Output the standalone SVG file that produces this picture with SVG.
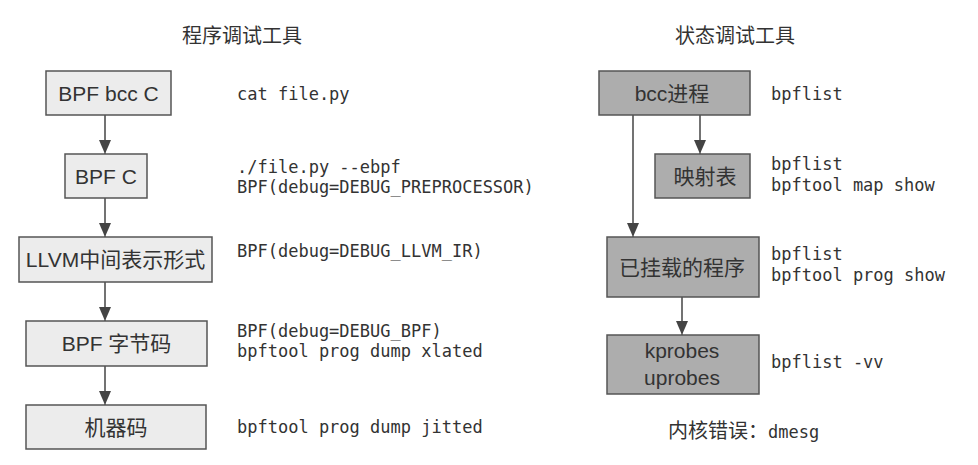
<svg xmlns="http://www.w3.org/2000/svg" width="978" height="465" viewBox="0 0 978 465">
<defs>
<marker id="ah" viewBox="0 0 12 14" refX="14" refY="6" markerWidth="12" markerHeight="14" markerUnits="userSpaceOnUse" orient="auto">
<path d="M0,0 L14,6 L0,12 Z" fill="#444"/>
</marker>
</defs>
<style>
.bl{fill:#ececec;stroke:#555;stroke-width:1.5}
.bd{fill:#adadad;stroke:#555;stroke-width:1.5}
.lbl{font-family:"Liberation Sans","Noto Sans CJK SC",sans-serif;font-size:21px;fill:#333;text-anchor:middle}
.mono{font-family:"DejaVu Sans Mono","Liberation Mono",monospace;font-size:17px;fill:#333}
.title{font-family:"Noto Sans CJK SC",sans-serif;font-size:20px;fill:#333;text-anchor:middle}
.cn{font-family:"Noto Sans CJK SC",sans-serif}
.con{stroke:#444;stroke-width:1.5;fill:none;marker-end:url(#ah)}
</style>
<rect width="978" height="465" fill="#ffffff"/>
<text class="title" x="242" y="43">程序调试工具</text>
<text class="title" x="735" y="43">状态调试工具</text>
<g id="connectors">
<line class="con" x1="105" y1="115" x2="105" y2="154"/>
<line class="con" x1="105" y1="198" x2="105" y2="237"/>
<line class="con" x1="105" y1="282" x2="105" y2="321"/>
<line class="con" x1="105" y1="366" x2="105" y2="405"/>
<line class="con" x1="633" y1="115" x2="633" y2="237"/>
<line class="con" x1="700" y1="115" x2="700" y2="154"/>
<line class="con" x1="682" y1="297" x2="682" y2="335"/>
</g>
<g id="n-bcc-c">
<rect class="bl" x="46" y="71" width="125" height="44"/>
<text class="lbl" x="108.5" y="101">BPF bcc C</text>
</g>
<g id="n-bpf-c">
<rect class="bl" x="65" y="154" width="82" height="44"/>
<text class="lbl" x="106" y="184">BPF C</text>
</g>
<g id="n-llvm">
<rect class="bl" x="19" y="237" width="193" height="45"/>
<text class="lbl" x="115.5" y="267">LLVM<tspan class="cn">中间表示形式</tspan></text>
</g>
<g id="n-bytecode">
<rect class="bl" x="26" y="321" width="181" height="45"/>
<text class="lbl" x="116.5" y="351">BPF <tspan class="cn">字节码</tspan></text>
</g>
<g id="n-machine">
<rect class="bl" x="26" y="405" width="180" height="44"/>
<text class="lbl cn" x="116" y="435">机器码</text>
</g>
<g id="left-cmds">
<text class="mono" x="237" y="100">cat file.py</text>
<text class="mono" x="237" y="173">./file.py --ebpf</text>
<text class="mono" x="237" y="193">BPF(debug=DEBUG_PREPROCESSOR)</text>
<text class="mono" x="237" y="257">BPF(debug=DEBUG_LLVM_IR)</text>
<text class="mono" x="237" y="337">BPF(debug=DEBUG_BPF)</text>
<text class="mono" x="237" y="357">bpftool prog dump xlated</text>
<text class="mono" x="237" y="433">bpftool prog dump jitted</text>
</g>
<g id="n-bcc-proc">
<rect class="bd" x="599" y="71" width="151" height="44"/>
<text class="lbl" x="672" y="101">bcc<tspan class="cn">进程</tspan></text>
</g>
<g id="n-maps">
<rect class="bd" x="655" y="154" width="95" height="44"/>
<text class="lbl cn" x="705" y="184">映射表</text>
</g>
<g id="n-progs">
<rect class="bd" x="607" y="237" width="152" height="60"/>
<text class="lbl cn" x="682" y="275">已挂载的程序</text>
</g>
<g id="n-probes">
<rect class="bd" x="607" y="335" width="152" height="59"/>
<text class="lbl" x="682" y="358">kprobes</text>
<text class="lbl" x="682" y="385">uprobes</text>
</g>
<g id="right-cmds">
<text class="mono" x="771" y="100">bpflist</text>
<text class="mono" x="771" y="170">bpflist</text>
<text class="mono" x="771" y="191">bpftool map show</text>
<text class="mono" x="771" y="260">bpflist</text>
<text class="mono" x="771" y="281">bpftool prog show</text>
<text class="mono" x="771" y="368">bpflist -vv</text>
</g>
<text x="668" y="438" font-family="Noto Sans CJK SC,sans-serif" font-size="20" fill="#333">内核错误：<tspan font-family="DejaVu Sans Mono,monospace" font-size="17">dmesg</tspan></text>
</svg>
